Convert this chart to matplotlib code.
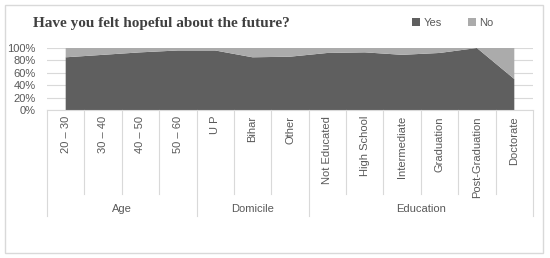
import matplotlib
matplotlib.use("Agg")
import matplotlib.pyplot as plt
from matplotlib.patches import Rectangle
import matplotlib.transforms as mtransforms
import numpy as np

categories = ["20 \u2013 30", "30 \u2013 40", "40 \u2013 50", "50 \u2013 60",
              "U P", "Bihar", "Other",
              "Not Educated", "High School", "Intermediate", "Graduation",
              "Post-Graduation", "Doctorate"]
groups = ["Age", "Domicile", "Education"]
group_sizes = [4, 3, 6]
yes_pct = [85, 89, 93, 96, 96, 85, 86, 92, 93, 89, 92, 100, 50]
no_pct = [100 - v for v in yes_pct]

W, H = 550, 258
fig = plt.figure(figsize=(W / 100, H / 100), dpi=100)

def fx(px):
    return px / W

def fy(py):
    return 1 - py / H

left, right, top, bottom = 47, 533, 48, 110
ax = fig.add_axes([fx(left), fy(bottom), fx(right - left), (bottom - top) / H])

x = np.arange(len(categories))
ax.stackplot(x, yes_pct, no_pct, colors=["#5f5f5f", "#ababab"], labels=["Yes", "No"], zorder=2)
ax.set_xlim(-0.5, len(categories) - 0.5)
ax.set_ylim(0, 100)
ax.set_yticks([0, 20, 40, 60, 80, 100])
ax.set_yticklabels([f"{v}%" for v in [0, 20, 40, 60, 80, 100]])
ax.tick_params(axis="y", length=0, labelsize=8, labelcolor="#595959", pad=8)
ax.set_xticks([])
ax.grid(axis="y", color="#d9d9d9", linewidth=0.8, zorder=0)
for s in ["top", "right", "left"]:
    ax.spines[s].set_visible(False)
ax.spines["bottom"].set_color("#d9d9d9")
for lbl in ax.get_yticklabels():
    lbl.set_family("Liberation Sans")

# category axis under the plot
trans = mtransforms.blended_transform_factory(ax.transData, fig.transFigure)
for i, c in enumerate(categories):
    ax.text(i, fy(116), c, transform=trans, rotation=90, ha="center", va="top",
            fontsize=8, color="#595959", family="Liberation Sans")

bounds = [0]
for g in group_sizes:
    bounds.append(bounds[-1] + g)
for b in range(len(categories) + 1):
    end = 216 if b in bounds else 194
    ax.plot([b - 0.5, b - 0.5], [fy(bottom), fy(end)], transform=trans,
            color="#d9d9d9", linewidth=0.8, clip_on=False)
for g, s, e in zip(groups, bounds[:-1], bounds[1:]):
    ax.text((s + e - 1) / 2, fy(209), g, transform=trans, ha="center", va="center",
            fontsize=8, color="#595959", family="Liberation Sans")

fig.text(fx(33), fy(24), "Have you felt hopeful about the future?", ha="left", va="center",
         fontsize=11, fontweight="bold", color="#404040", family="Liberation Serif")

leg = fig.legend(loc="center", bbox_to_anchor=(fx(453), fy(23)), ncol=2, frameon=False,
                 handlelength=0.7, handleheight=0.7, columnspacing=2.4,
                 handletextpad=0.3, prop={"family": "Liberation Sans", "size": 8})
for t in leg.get_texts():
    t.set_color("#595959")

fig.patches.append(Rectangle((fx(5), fy(253)), fx(538), (253 - 5) / H, transform=fig.transFigure,
                             fill=False, edgecolor="#d9d9d9", linewidth=1))

fig.savefig("out.png", dpi=100, facecolor="white")
